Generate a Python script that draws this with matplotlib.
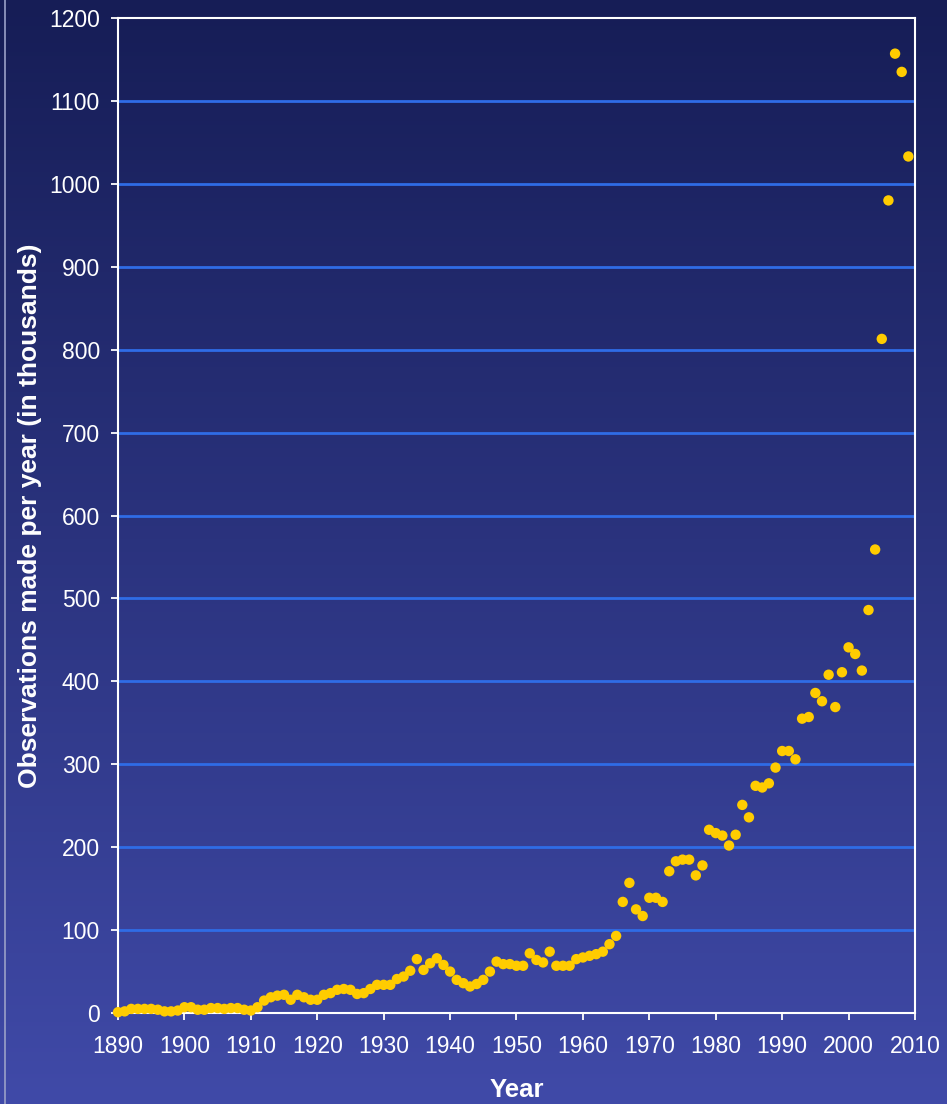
import numpy as np
import matplotlib
matplotlib.use("Agg")
import matplotlib.pyplot as plt
from matplotlib.lines import Line2D

years = list(range(1890, 2010))
observations = [
    1, 2, 5, 5, 5, 5, 4, 2, 2, 3,            # 1890-1899
    7, 7, 4, 4, 6, 6, 5, 6, 6, 4,            # 1900-1909
    3, 7, 15, 19, 21, 22, 16, 22, 19, 16,    # 1910-1919
    16, 22, 24, 28, 29, 28, 23, 24, 29, 34,  # 1920-1929
    34, 34, 41, 44, 51, 65, 52, 60, 66, 58,  # 1930-1939
    50, 40, 36, 32, 35, 40, 50, 62, 59, 59,  # 1940-1949
    57, 57, 72, 64, 61, 74, 57, 57, 57, 65,  # 1950-1959
    67, 69, 71, 74, 83, 93, 134, 157, 125, 117,   # 1960-1969
    139, 139, 134, 171, 183, 185, 185, 166, 178, 221,  # 1970-1979
    217, 214, 202, 215, 251, 236, 274, 272, 277, 296,  # 1980-1989
    316, 316, 306, 355, 357, 386, 376, 408, 369, 411,  # 1990-1999
    441, 433, 413, 486, 559, 813, 980, 1157, 1135, 1033,  # 2000-2009
]
x_ticks = list(range(1890, 2011, 10))
y_ticks = list(range(0, 1201, 100))

plt.rcParams['font.family'] = ['Liberation Sans', 'DejaVu Sans']

fig = plt.figure(figsize=(9.47, 11.04), dpi=100)

# background gradient
bg = fig.add_axes([0, 0, 1, 1], zorder=-10)
top = np.array([22, 29, 86]) / 255.0
bot = np.array([64, 74, 168]) / 255.0
t = np.linspace(0, 1, 256)[:, None]
grad = top[None, :] * (1 - t) + bot[None, :] * t
img = np.repeat(grad[:, None, :], 2, axis=1)
bg.imshow(img, aspect='auto', extent=[0, 1, 0, 1], origin='upper')
bg.set_axis_off()

ax = fig.add_axes([0.1246, 0.0824, 0.8416, 0.9013])
ax.patch.set_alpha(0)

for yv in y_ticks[1:-1]:
    ax.axhline(yv, color='#2f6ce6', lw=2.0, zorder=1)

ax.scatter(years, observations, s=56, color='#ffcc00', edgecolors='none',
           zorder=3, clip_on=False)

ax.set_xlim(1890, 2010)
ax.set_ylim(0, 1200)
ax.set_xticks(x_ticks)
ax.set_yticks(y_ticks)
for sp in ax.spines.values():
    sp.set_color('white')
    sp.set_linewidth(1.5)
ax.tick_params(colors='white', labelsize=16.5, length=5, width=1.3, direction='out')
ax.tick_params(axis='x', pad=11)
ax.tick_params(axis='y', pad=8)
ax.set_xlabel('Year', color='white', fontsize=18.5, fontweight='bold', labelpad=14)
ax.set_ylabel('Observations made per year (in thousands)', color='white',
              fontsize=19, fontweight='bold', labelpad=5)

fig.add_artist(Line2D([0.005, 0.005], [0, 1], color='#9aa0c8', lw=1.2, transform=fig.transFigure))

fig.savefig('out.png', dpi=100)
